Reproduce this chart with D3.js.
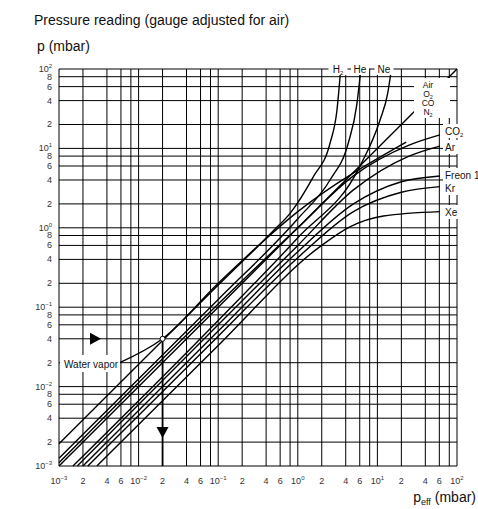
<!DOCTYPE html>
<html>
<head>
<meta charset="utf-8">
<script src="https://cdn.jsdelivr.net/npm/d3@7"></script>
<style>
  body { margin: 0; background: #fff; }
  text { font-family: "Liberation Sans", Arial, sans-serif; }
</style>
</head>
<body>
<script>
// grid / tick values (mbar)
var decades = [-3, -2, -1, 0, 1];
var mults = [1, 2, 4, 6, 8];
var xTickLabels = [1, 2, 4, 6];     // no "8" on the x axis
var yTickLabels = [1, 2, 4, 6, 8];

// curves: [p_eff, p reading]
var air    = [[1e-3, 1e-3], [100, 100]];
var h2     = [[1e-3, 1.9e-3], [0.1, 0.19], [0.5, 0.93], [0.8, 1.52], [1.57, 4.4], [2.54, 11.6], [3.1, 30], [3.46, 100]];
var he     = [[1e-3, 1.25e-3], [0.1, 0.125], [1, 1.3], [2.54, 4.0], [4.3, 11.6], [5.5, 35], [6.2, 100]];
var ne     = [[1.5e-3, 1e-3], [0.1, 0.068], [1, 0.75], [6, 5.9], [10.8, 22.8], [13.5, 50], [15, 100]];
var co2    = [[1e-3, 1.1e-3], [0.1, 0.11], [1, 1.0], [5, 4.5], [25, 11], [61, 14.8]];
var ar     = [[1.7e-3, 1e-3], [0.1, 0.06], [1, 0.6], [5, 3], [25, 8], [61, 10.7]];
var freon  = [[2e-3, 1e-3], [0.1, 0.05], [1, 0.5], [5, 2], [20, 3.8], [61, 4.5]];
var kr     = [[2.3e-3, 1e-3], [0.1, 0.043], [1, 0.42], [5, 1.6], [20, 2.8], [61, 3.3]];
var xe     = [[3e-3, 1e-3], [0.1, 0.033], [1.9, 0.58], [4.5, 1.03], [11.9, 1.41], [61, 1.6]];
var water  = [[5.8e-3, 2e-2], [2e-2, 4e-2], [0.1, 0.2], [1, 1.6], [23, 12]];

// worked example: reading 4e-2 -> p_eff 2e-2
var example = {peff: 2e-2, p: 4e-2};

var W = 478, H = 509;
var svg = d3.select('body').append('svg').attr('width', W).attr('height', H);

var x = d3.scaleLog().domain([1e-3, 1e2]).range([59, 457]);
var y = d3.scaleLog().domain([1e-3, 1e2]).range([466, 69]);

var gridVals = [];
decades.forEach(function(d) {
	mults.forEach(function(m) { gridVals.push(m * Math.pow(10, d)); });
});
gridVals.push(100);

function mant(v) { return Math.round(v / Math.pow(10, Math.floor(Math.log10(v) + 1e-9))); }
function expo(v) { return Math.round(Math.log10(v)); }

// grid
var grid = svg.append('g').attr('stroke', '#000').attr('stroke-width', 1);
grid.selectAll('line.v').data(gridVals).enter().append('line')
	.attr('x1', function(d) { return x(d); }).attr('x2', function(d) { return x(d); })
	.attr('y1', y(1e-3)).attr('y2', y(1e2));
grid.selectAll('line.h').data(gridVals).enter().append('line')
	.attr('y1', function(d) { return y(d); }).attr('y2', function(d) { return y(d); })
	.attr('x1', x(1e-3)).attr('x2', x(1e2));

// tick labels
function tickText(sel) {
	sel.each(function(d) {
		var t = d3.select(this);
		if (mant(d) === 1) {
			var e = expo(d);
			t.text('10');
			t.append('tspan').attr('font-size', 6).attr('dy', -4)
				.text(e < 0 ? '\u2212' + (-e) : e);
		} else {
			t.text(mant(d));
		}
	});
}
svg.append('g').selectAll('text').data(gridVals.filter(function(d) { return xTickLabels.indexOf(mant(d)) >= 0; }))
	.enter().append('text')
	.attr('x', function(d) { return x(d); }).attr('y', 484)
	.attr('text-anchor', 'middle').attr('font-size', 9).attr('fill', '#333')
	.call(tickText);
svg.append('g').selectAll('text').data(gridVals.filter(function(d) { return yTickLabels.indexOf(mant(d)) >= 0; }))
	.enter().append('text')
	.attr('x', 52).attr('y', function(d) { return y(d) + 3; })
	.attr('text-anchor', 'end').attr('font-size', 9).attr('fill', '#333')
	.call(tickText);

// curves
var line = d3.line()
	.x(function(d) { return x(d[0]); })
	.y(function(d) { return y(d[1]); })
	.curve(d3.curveMonotoneX);
var curves = [air, h2, he, ne, co2, ar, freon, kr, xe, water];
var cg = svg.append('g').attr('fill', 'none').attr('stroke', '#000').attr('stroke-width', 1.4);
curves.forEach(function(c) { cg.append('path').attr('d', line(c)); });

// worked example arrows
var ex = x(example.peff), ey = y(example.p);
svg.append('line').attr('x1', ex).attr('x2', ex).attr('y1', ey).attr('y2', y(1e-3))
	.attr('stroke', '#000').attr('stroke-width', 1.8);
svg.append('path').attr('d', 'M90,' + (ey - 6) + 'l11,6l-11,6z').attr('fill', '#000');
svg.append('path').attr('d', 'M' + (ex - 6) + ',427l12,0l-6,11z').attr('fill', '#000');
svg.append('circle').attr('cx', ex).attr('cy', ey).attr('r', 2.5)
	.attr('fill', '#fff').attr('stroke', '#000').attr('stroke-width', 1);

// labels with white boxes
function boxLabel(txt, cx, cy, w, h, sub) {
	svg.append('rect').attr('x', cx - w / 2).attr('y', cy - h / 2).attr('width', w).attr('height', h).attr('fill', '#fff');
	var t = svg.append('text').attr('x', cx).attr('y', cy + 3.5).attr('text-anchor', 'middle').attr('font-size', 10).attr('fill', '#111').text(txt);
	if (sub) t.append('tspan').attr('font-size', 6).attr('dy', 2).text(sub);
}
boxLabel('H', 338, 69, 19, 12, '2');
boxLabel('He', 360, 69, 18, 12);
boxLabel('Ne', 384, 69, 19, 12);
svg.append('rect').attr('x', 414).attr('y', 78).attr('width', 36).attr('height', 40).attr('fill', '#fff');
[['Air', 85, null], ['O', 94, '2'], ['CO', 103, null], ['N', 112, '2']].forEach(function(r) {
	var t = svg.append('text').attr('x', 428).attr('y', r[1] + 3).attr('text-anchor', 'middle').attr('font-size', 8.5).attr('fill', '#111').text(r[0]);
	if (r[2]) t.append('tspan').attr('font-size', 5.5).attr('dy', 1.5).text(r[2]);
});
function rightLabel(txt, cy, sub) {
	svg.append('rect').attr('x', 443).attr('y', cy - 7).attr('width', 35).attr('height', 14).attr('fill', '#fff');
	var t = svg.append('text').attr('x', 445).attr('y', cy + 3.5).attr('font-size', 10).attr('fill', '#111').text(txt);
	if (sub) t.append('tspan').attr('font-size', 6).attr('dy', 2).text(sub);
}
rightLabel('CO', 131, '2');
rightLabel('Ar', 147);
rightLabel('Freon 1', 175);
rightLabel('Kr', 188);
rightLabel('Xe', 212);

svg.append('rect').attr('x', 60).attr('y', 355).attr('width', 60).attr('height', 17).attr('fill', '#fff');
svg.append('text').attr('x', 64).attr('y', 368).attr('font-size', 10).attr('fill', '#111').text('Water vapor');

// titles
svg.append('text').attr('x', 34).attr('y', 25).attr('font-size', 14).attr('fill', '#111')
	.text('Pressure reading (gauge adjusted for air)');
svg.append('text').attr('x', 37).attr('y', 51).attr('font-size', 14).attr('fill', '#111')
	.text('p (mbar)');
var xl = svg.append('text').attr('x', 476).attr('y', 502).attr('text-anchor', 'end').attr('font-size', 14).attr('fill', '#111').text('p');
xl.append('tspan').attr('font-size', 9).attr('dy', 3).text('eff');
xl.append('tspan').attr('dy', -3).text(' (mbar)');
</script>
</body>
</html>
